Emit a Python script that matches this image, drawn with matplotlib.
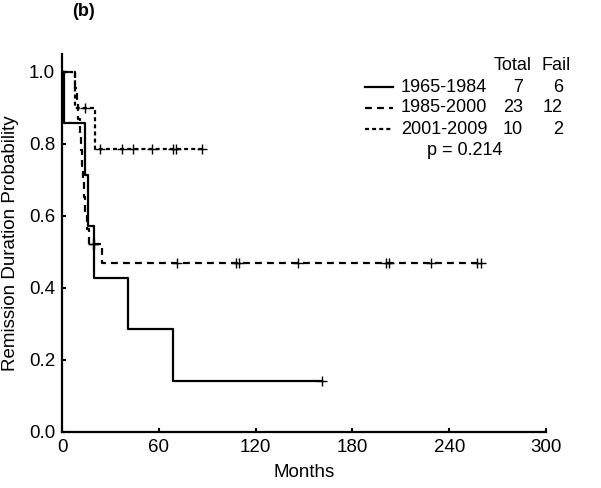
import matplotlib.pyplot as plt
from matplotlib.lines import Line2D

plt.rcParams['font.family'] = ['Liberation Sans', 'DejaVu Sans']

W, H = 601, 488

groups = ['1965-1984', '1985-2000', '2001-2009']
totals = [7, 23, 10]
fails = [6, 12, 2]
p_value = 0.214

# failure / censoring times in months
events_a = [1, 14, 16, 20, 41, 69]
censor_a = [161]
events_b = [8, 9, 10, 11, 12, 12.5, 13, 13.5, 14.5, 15.5, 17, 25]
censor_b = [19, 20, 71, 108, 110, 146, 201, 202.5, 229, 257, 260]
events_c = [8, 20.5]
censor_c = [14, 23.6, 37, 44, 56, 69, 70.5, 87]

xticks = [0, 60, 120, 180, 240, 300]
yticks = [0.0, 0.2, 0.4, 0.6, 0.8, 1.0]

styles = ['-', (0, (3.1, 2.3)), (0, (1.8, 1.4))]


def km(events, censored):
    times = sorted(set(events) | set(censored))
    n = len(events) + len(censored)
    s = 1.0
    xs, ys, cx, cy = [0], [1.0], [], []
    for t in times:
        d = events.count(t)
        c = censored.count(t)
        if d:
            s *= (n - d) / n
        xs.append(t)
        ys.append(s)
        cx += [t] * c
        cy += [s] * c
        n -= d + c
    return xs, ys, cx, cy


def px(x, y):
    return x / W, 1 - y / H


fig = plt.figure(figsize=(W / 100, H / 100), dpi=100)
ax = fig.add_axes([62 / W, 56 / H, 484 / W, 378 / H])

data = [(events_a, censor_a), (events_b, censor_b), (events_c, censor_c)]
for (ev, ce), ls in zip(data, styles):
    xs, ys, cx, cy = km(ev, ce)
    ax.step(xs, ys, where='post', color='black', lw=1.6, linestyle=ls)
    ax.plot(cx, cy, '+', color='black', ms=7, mew=1)

ax.set_xlim(0, 300)
ax.set_ylim(0, 1.05)
ax.set_xticks(xticks)
ax.set_yticks(yticks)
ax.set_yticklabels(['%.1f' % v for v in yticks])
for s in ['top', 'right']:
    ax.spines[s].set_visible(False)
for s in ['left', 'bottom']:
    ax.spines[s].set_linewidth(1.6)
ax.tick_params(direction='in', length=3, width=1.5, labelsize=13.5, pad=5)
ax.set_xlabel('Months', fontsize=13.5, labelpad=6)
ax.set_ylabel('Remission Duration Probability', fontsize=13.5, labelpad=7)

fig.text(*px(84, 12), '(b)', fontsize=13, fontweight='bold', ha='center', va='center')

# legend block
fig.text(*px(532, 65), 'Total', fontsize=13, ha='right', va='center')
fig.text(*px(571, 65), 'Fail', fontsize=13, ha='right', va='center')
rows = [87, 108, 129]
for i, yy in enumerate(rows):
    x0, y0 = px(365, yy)
    x1, _ = px(393, yy)
    fig.add_artist(Line2D([x0, x1], [y0, y0], color='black', lw=1.6,
                          linestyle=styles[i], transform=fig.transFigure))
    fig.text(*px(401, yy), groups[i], fontsize=13, ha='left', va='center')
    fig.text(*px(523, yy), str(totals[i]), fontsize=13, ha='right', va='center')
    fig.text(*px(563, yy), str(fails[i]), fontsize=13, ha='right', va='center')
fig.text(*px(465, 151), 'p = %.3f' % p_value, fontsize=13, ha='center', va='center')

fig.savefig('out.png', dpi=100)
